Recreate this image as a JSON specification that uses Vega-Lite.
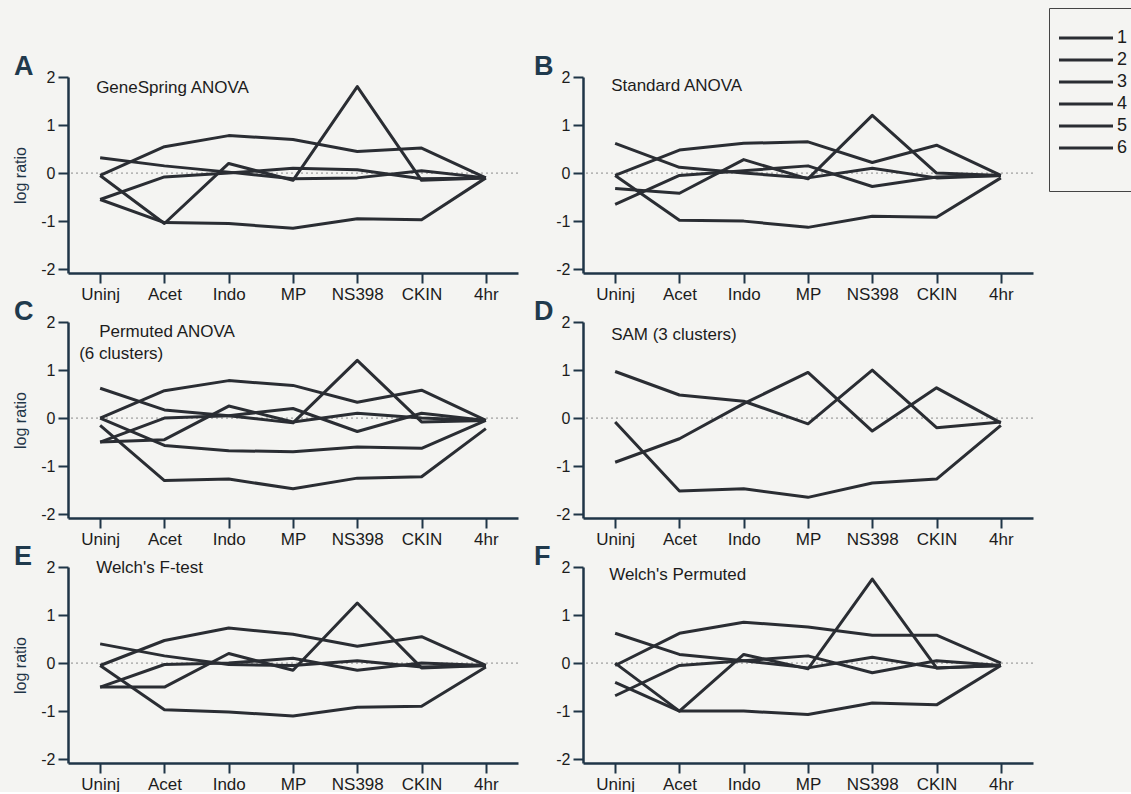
{
  "$schema": "https://vega.github.io/schema/vega-lite/v6.json",
  "padding": {"left": 12, "top": 7, "right": 0, "bottom": 0},
  "background": "#f4f4f2",
  "bounds": "flush",
  "columns": 2,
  "spacing": {"row": 49, "column": 65},
  "datasets": {
    "lines": [
      {"panel":"A","cluster":"1","stage":"Uninj","v":0.32},{"panel":"A","cluster":"1","stage":"Acet","v":0.15},{"panel":"A","cluster":"1","stage":"Indo","v":0.02},{"panel":"A","cluster":"1","stage":"MP","v":-0.12},{"panel":"A","cluster":"1","stage":"NS398","v":-0.1},{"panel":"A","cluster":"1","stage":"CKIN","v":0.05},{"panel":"A","cluster":"1","stage":"4hr","v":-0.1},
      {"panel":"A","cluster":"2","stage":"Uninj","v":-0.05},{"panel":"A","cluster":"2","stage":"Acet","v":0.55},{"panel":"A","cluster":"2","stage":"Indo","v":0.78},{"panel":"A","cluster":"2","stage":"MP","v":0.7},{"panel":"A","cluster":"2","stage":"NS398","v":0.45},{"panel":"A","cluster":"2","stage":"CKIN","v":0.52},{"panel":"A","cluster":"2","stage":"4hr","v":-0.1},
      {"panel":"A","cluster":"3","stage":"Uninj","v":-0.05},{"panel":"A","cluster":"3","stage":"Acet","v":-1.05},{"panel":"A","cluster":"3","stage":"Indo","v":0.2},{"panel":"A","cluster":"3","stage":"MP","v":-0.15},{"panel":"A","cluster":"3","stage":"NS398","v":1.8},{"panel":"A","cluster":"3","stage":"CKIN","v":-0.15},{"panel":"A","cluster":"3","stage":"4hr","v":-0.1},
      {"panel":"A","cluster":"4","stage":"Uninj","v":-0.55},{"panel":"A","cluster":"4","stage":"Acet","v":-1.03},{"panel":"A","cluster":"4","stage":"Indo","v":-1.05},{"panel":"A","cluster":"4","stage":"MP","v":-1.15},{"panel":"A","cluster":"4","stage":"NS398","v":-0.95},{"panel":"A","cluster":"4","stage":"CKIN","v":-0.97},{"panel":"A","cluster":"4","stage":"4hr","v":-0.1},
      {"panel":"A","cluster":"5","stage":"Uninj","v":-0.55},{"panel":"A","cluster":"5","stage":"Acet","v":-0.08},{"panel":"A","cluster":"5","stage":"Indo","v":0.0},{"panel":"A","cluster":"5","stage":"MP","v":0.1},{"panel":"A","cluster":"5","stage":"NS398","v":0.07},{"panel":"A","cluster":"5","stage":"CKIN","v":-0.12},{"panel":"A","cluster":"5","stage":"4hr","v":-0.1},

      {"panel":"B","cluster":"1","stage":"Uninj","v":0.62},{"panel":"B","cluster":"1","stage":"Acet","v":0.12},{"panel":"B","cluster":"1","stage":"Indo","v":0.0},{"panel":"B","cluster":"1","stage":"MP","v":-0.1},{"panel":"B","cluster":"1","stage":"NS398","v":0.1},{"panel":"B","cluster":"1","stage":"CKIN","v":-0.1},{"panel":"B","cluster":"1","stage":"4hr","v":-0.05},
      {"panel":"B","cluster":"2","stage":"Uninj","v":-0.05},{"panel":"B","cluster":"2","stage":"Acet","v":0.48},{"panel":"B","cluster":"2","stage":"Indo","v":0.62},{"panel":"B","cluster":"2","stage":"MP","v":0.65},{"panel":"B","cluster":"2","stage":"NS398","v":0.22},{"panel":"B","cluster":"2","stage":"CKIN","v":0.58},{"panel":"B","cluster":"2","stage":"4hr","v":-0.05},
      {"panel":"B","cluster":"3","stage":"Uninj","v":-0.05},{"panel":"B","cluster":"3","stage":"Acet","v":-0.98},{"panel":"B","cluster":"3","stage":"Indo","v":-1.0},{"panel":"B","cluster":"3","stage":"MP","v":-1.13},{"panel":"B","cluster":"3","stage":"NS398","v":-0.9},{"panel":"B","cluster":"3","stage":"CKIN","v":-0.92},{"panel":"B","cluster":"3","stage":"4hr","v":-0.1},
      {"panel":"B","cluster":"4","stage":"Uninj","v":-0.32},{"panel":"B","cluster":"4","stage":"Acet","v":-0.42},{"panel":"B","cluster":"4","stage":"Indo","v":0.28},{"panel":"B","cluster":"4","stage":"MP","v":-0.12},{"panel":"B","cluster":"4","stage":"NS398","v":1.2},{"panel":"B","cluster":"4","stage":"CKIN","v":0.0},{"panel":"B","cluster":"4","stage":"4hr","v":-0.05},
      {"panel":"B","cluster":"5","stage":"Uninj","v":-0.65},{"panel":"B","cluster":"5","stage":"Acet","v":-0.05},{"panel":"B","cluster":"5","stage":"Indo","v":0.05},{"panel":"B","cluster":"5","stage":"MP","v":0.15},{"panel":"B","cluster":"5","stage":"NS398","v":-0.28},{"panel":"B","cluster":"5","stage":"CKIN","v":-0.08},{"panel":"B","cluster":"5","stage":"4hr","v":-0.05},

      {"panel":"C","cluster":"1","stage":"Uninj","v":0.62},{"panel":"C","cluster":"1","stage":"Acet","v":0.17},{"panel":"C","cluster":"1","stage":"Indo","v":0.05},{"panel":"C","cluster":"1","stage":"MP","v":-0.1},{"panel":"C","cluster":"1","stage":"NS398","v":1.2},{"panel":"C","cluster":"1","stage":"CKIN","v":-0.08},{"panel":"C","cluster":"1","stage":"4hr","v":-0.05},
      {"panel":"C","cluster":"2","stage":"Uninj","v":0.0},{"panel":"C","cluster":"2","stage":"Acet","v":0.57},{"panel":"C","cluster":"2","stage":"Indo","v":0.78},{"panel":"C","cluster":"2","stage":"MP","v":0.68},{"panel":"C","cluster":"2","stage":"NS398","v":0.33},{"panel":"C","cluster":"2","stage":"CKIN","v":0.58},{"panel":"C","cluster":"2","stage":"4hr","v":-0.05},
      {"panel":"C","cluster":"3","stage":"Uninj","v":0.0},{"panel":"C","cluster":"3","stage":"Acet","v":-0.57},{"panel":"C","cluster":"3","stage":"Indo","v":-0.68},{"panel":"C","cluster":"3","stage":"MP","v":-0.7},{"panel":"C","cluster":"3","stage":"NS398","v":-0.6},{"panel":"C","cluster":"3","stage":"CKIN","v":-0.63},{"panel":"C","cluster":"3","stage":"4hr","v":-0.05},
      {"panel":"C","cluster":"4","stage":"Uninj","v":-0.15},{"panel":"C","cluster":"4","stage":"Acet","v":-1.3},{"panel":"C","cluster":"4","stage":"Indo","v":-1.27},{"panel":"C","cluster":"4","stage":"MP","v":-1.47},{"panel":"C","cluster":"4","stage":"NS398","v":-1.25},{"panel":"C","cluster":"4","stage":"CKIN","v":-1.22},{"panel":"C","cluster":"4","stage":"4hr","v":-0.22},
      {"panel":"C","cluster":"5","stage":"Uninj","v":-0.5},{"panel":"C","cluster":"5","stage":"Acet","v":-0.45},{"panel":"C","cluster":"5","stage":"Indo","v":0.25},{"panel":"C","cluster":"5","stage":"MP","v":-0.08},{"panel":"C","cluster":"5","stage":"NS398","v":0.1},{"panel":"C","cluster":"5","stage":"CKIN","v":0.0},{"panel":"C","cluster":"5","stage":"4hr","v":-0.05},
      {"panel":"C","cluster":"6","stage":"Uninj","v":-0.5},{"panel":"C","cluster":"6","stage":"Acet","v":0.0},{"panel":"C","cluster":"6","stage":"Indo","v":0.05},{"panel":"C","cluster":"6","stage":"MP","v":0.2},{"panel":"C","cluster":"6","stage":"NS398","v":-0.28},{"panel":"C","cluster":"6","stage":"CKIN","v":0.1},{"panel":"C","cluster":"6","stage":"4hr","v":-0.05},

      {"panel":"D","cluster":"1","stage":"Uninj","v":0.97},{"panel":"D","cluster":"1","stage":"Acet","v":0.48},{"panel":"D","cluster":"1","stage":"Indo","v":0.35},{"panel":"D","cluster":"1","stage":"MP","v":-0.12},{"panel":"D","cluster":"1","stage":"NS398","v":1.0},{"panel":"D","cluster":"1","stage":"CKIN","v":-0.2},{"panel":"D","cluster":"1","stage":"4hr","v":-0.08},
      {"panel":"D","cluster":"2","stage":"Uninj","v":-0.92},{"panel":"D","cluster":"2","stage":"Acet","v":-0.43},{"panel":"D","cluster":"2","stage":"Indo","v":0.3},{"panel":"D","cluster":"2","stage":"MP","v":0.95},{"panel":"D","cluster":"2","stage":"NS398","v":-0.27},{"panel":"D","cluster":"2","stage":"CKIN","v":0.63},{"panel":"D","cluster":"2","stage":"4hr","v":-0.1},
      {"panel":"D","cluster":"3","stage":"Uninj","v":-0.08},{"panel":"D","cluster":"3","stage":"Acet","v":-1.52},{"panel":"D","cluster":"3","stage":"Indo","v":-1.47},{"panel":"D","cluster":"3","stage":"MP","v":-1.65},{"panel":"D","cluster":"3","stage":"NS398","v":-1.35},{"panel":"D","cluster":"3","stage":"CKIN","v":-1.27},{"panel":"D","cluster":"3","stage":"4hr","v":-0.15},

      {"panel":"E","cluster":"1","stage":"Uninj","v":0.4},{"panel":"E","cluster":"1","stage":"Acet","v":0.15},{"panel":"E","cluster":"1","stage":"Indo","v":-0.03},{"panel":"E","cluster":"1","stage":"MP","v":-0.05},{"panel":"E","cluster":"1","stage":"NS398","v":0.05},{"panel":"E","cluster":"1","stage":"CKIN","v":-0.08},{"panel":"E","cluster":"1","stage":"4hr","v":-0.05},
      {"panel":"E","cluster":"2","stage":"Uninj","v":-0.05},{"panel":"E","cluster":"2","stage":"Acet","v":0.47},{"panel":"E","cluster":"2","stage":"Indo","v":0.73},{"panel":"E","cluster":"2","stage":"MP","v":0.6},{"panel":"E","cluster":"2","stage":"NS398","v":0.35},{"panel":"E","cluster":"2","stage":"CKIN","v":0.55},{"panel":"E","cluster":"2","stage":"4hr","v":-0.05},
      {"panel":"E","cluster":"3","stage":"Uninj","v":-0.05},{"panel":"E","cluster":"3","stage":"Acet","v":-0.97},{"panel":"E","cluster":"3","stage":"Indo","v":-1.02},{"panel":"E","cluster":"3","stage":"MP","v":-1.1},{"panel":"E","cluster":"3","stage":"NS398","v":-0.92},{"panel":"E","cluster":"3","stage":"CKIN","v":-0.9},{"panel":"E","cluster":"3","stage":"4hr","v":-0.08},
      {"panel":"E","cluster":"4","stage":"Uninj","v":-0.5},{"panel":"E","cluster":"4","stage":"Acet","v":-0.5},{"panel":"E","cluster":"4","stage":"Indo","v":0.2},{"panel":"E","cluster":"4","stage":"MP","v":-0.15},{"panel":"E","cluster":"4","stage":"NS398","v":1.25},{"panel":"E","cluster":"4","stage":"CKIN","v":-0.1},{"panel":"E","cluster":"4","stage":"4hr","v":-0.05},
      {"panel":"E","cluster":"5","stage":"Uninj","v":-0.5},{"panel":"E","cluster":"5","stage":"Acet","v":-0.03},{"panel":"E","cluster":"5","stage":"Indo","v":0.0},{"panel":"E","cluster":"5","stage":"MP","v":0.1},{"panel":"E","cluster":"5","stage":"NS398","v":-0.15},{"panel":"E","cluster":"5","stage":"CKIN","v":0.0},{"panel":"E","cluster":"5","stage":"4hr","v":-0.05},

      {"panel":"F","cluster":"1","stage":"Uninj","v":0.62},{"panel":"F","cluster":"1","stage":"Acet","v":0.18},{"panel":"F","cluster":"1","stage":"Indo","v":0.05},{"panel":"F","cluster":"1","stage":"MP","v":-0.1},{"panel":"F","cluster":"1","stage":"NS398","v":0.12},{"panel":"F","cluster":"1","stage":"CKIN","v":-0.1},{"panel":"F","cluster":"1","stage":"4hr","v":-0.05},
      {"panel":"F","cluster":"2","stage":"Uninj","v":-0.05},{"panel":"F","cluster":"2","stage":"Acet","v":0.62},{"panel":"F","cluster":"2","stage":"Indo","v":0.85},{"panel":"F","cluster":"2","stage":"MP","v":0.75},{"panel":"F","cluster":"2","stage":"NS398","v":0.58},{"panel":"F","cluster":"2","stage":"CKIN","v":0.58},{"panel":"F","cluster":"2","stage":"4hr","v":0.0},
      {"panel":"F","cluster":"3","stage":"Uninj","v":0.0},{"panel":"F","cluster":"3","stage":"Acet","v":-1.0},{"panel":"F","cluster":"3","stage":"Indo","v":0.18},{"panel":"F","cluster":"3","stage":"MP","v":-0.12},{"panel":"F","cluster":"3","stage":"NS398","v":1.75},{"panel":"F","cluster":"3","stage":"CKIN","v":-0.1},{"panel":"F","cluster":"3","stage":"4hr","v":-0.05},
      {"panel":"F","cluster":"4","stage":"Uninj","v":-0.4},{"panel":"F","cluster":"4","stage":"Acet","v":-1.0},{"panel":"F","cluster":"4","stage":"Indo","v":-1.0},{"panel":"F","cluster":"4","stage":"MP","v":-1.07},{"panel":"F","cluster":"4","stage":"NS398","v":-0.83},{"panel":"F","cluster":"4","stage":"CKIN","v":-0.87},{"panel":"F","cluster":"4","stage":"4hr","v":-0.05},
      {"panel":"F","cluster":"5","stage":"Uninj","v":-0.68},{"panel":"F","cluster":"5","stage":"Acet","v":-0.05},{"panel":"F","cluster":"5","stage":"Indo","v":0.05},{"panel":"F","cluster":"5","stage":"MP","v":0.15},{"panel":"F","cluster":"5","stage":"NS398","v":-0.2},{"panel":"F","cluster":"5","stage":"CKIN","v":0.05},{"panel":"F","cluster":"5","stage":"4hr","v":-0.05}
    ],
    "labels": [
      {"panel":"A","stage":"Uninj","v":1.77,"label":"GeneSpring ANOVA","shift":"a"},
      {"panel":"B","stage":"Uninj","v":1.81,"label":"Standard ANOVA","shift":"a"},
      {"panel":"C","stage":"Uninj","v":1.79,"label":"Permuted ANOVA","shift":"a"},
      {"panel":"C","stage":"Uninj","v":1.33,"label":"(6 clusters)","shift":"b"},
      {"panel":"D","stage":"Uninj","v":1.73,"label":"SAM (3 clusters)","shift":"a"},
      {"panel":"E","stage":"Uninj","v":1.98,"label":"Welch's F-test","shift":"a"},
      {"panel":"F","stage":"Uninj","v":1.83,"label":"Welch's Permuted","shift":"a"}
    ],
    "zero": [{"z": 0}]
  },
  "concat": [
      {"width": 450, "height": 196, "title": {"text": "A", "dx": -54},
       "layer": [
        {"data": {"name": "zero"}, "mark": {"type": "rule", "color": "#8a8a8a", "strokeWidth": 1, "strokeDash": [2, 3]}, "encoding": {"y": {"field": "z", "type": "quantitative", "scale": {"domain": [-2.08, 2], "nice": false, "zero": false}, "title": "log ratio", "axis": {"values": [-2, -1.5, -1, -0.5, 0, 0.5, 1, 1.5, 2]}}}},
        {"data": {"name": "lines"}, "transform": [{"filter": "datum.panel === 'A'"}], "mark": {"type": "line", "strokeWidth": 3, "strokeJoin": "round"},
         "encoding": {"x": {"field": "stage", "type": "ordinal", "scale": {"type": "point", "padding": 0.5, "domain": ["Uninj","Acet","Indo","MP","NS398","CKIN","4hr"]}, "title": null},
                      "y": {"field": "v", "type": "quantitative", "title": "log ratio"},
                      "color": {"field": "cluster", "type": "nominal", "title": " "}}},
        {"data": {"name": "labels"}, "transform": [{"filter": "datum.panel === 'A'"}], "mark": {"type": "text", "align": "left", "dx": -4, "fontSize": 17},
         "encoding": {"x": {"field": "stage", "type": "ordinal", "title": null}, "y": {"field": "v", "type": "quantitative", "title": "log ratio"}, "text": {"field": "label"}}}
       ]},
      {"width": 450, "height": 196, "title": {"text": "B", "dx": -49},
       "layer": [
        {"data": {"name": "zero"}, "mark": {"type": "rule", "color": "#8a8a8a", "strokeWidth": 1, "strokeDash": [2, 3]}, "encoding": {"y": {"field": "z", "type": "quantitative", "scale": {"domain": [-2.08, 2], "nice": false, "zero": false}, "title": null, "axis": {"values": [-2, -1.5, -1, -0.5, 0, 0.5, 1, 1.5, 2]}}}},
        {"data": {"name": "lines"}, "transform": [{"filter": "datum.panel === 'B'"}], "mark": {"type": "line", "strokeWidth": 3, "strokeJoin": "round"},
         "encoding": {"x": {"field": "stage", "type": "ordinal", "scale": {"type": "point", "padding": 0.5, "domain": ["Uninj","Acet","Indo","MP","NS398","CKIN","4hr"]}, "title": null},
                      "y": {"field": "v", "type": "quantitative", "title": null},
                      "color": {"field": "cluster", "type": "nominal", "title": " "}}},
        {"data": {"name": "labels"}, "transform": [{"filter": "datum.panel === 'B'"}], "mark": {"type": "text", "align": "left", "dx": -4, "fontSize": 17},
         "encoding": {"x": {"field": "stage", "type": "ordinal", "title": null}, "y": {"field": "v", "type": "quantitative", "title": null}, "text": {"field": "label"}}}
       ]},
      {"width": 450, "height": 196, "title": {"text": "C", "dx": -54},
       "layer": [
        {"data": {"name": "zero"}, "mark": {"type": "rule", "color": "#8a8a8a", "strokeWidth": 1, "strokeDash": [2, 3]}, "encoding": {"y": {"field": "z", "type": "quantitative", "scale": {"domain": [-2.08, 2], "nice": false, "zero": false}, "title": "log ratio", "axis": {"values": [-2, -1.5, -1, -0.5, 0, 0.5, 1, 1.5, 2]}}}},
        {"data": {"name": "lines"}, "transform": [{"filter": "datum.panel === 'C'"}], "mark": {"type": "line", "strokeWidth": 3, "strokeJoin": "round"},
         "encoding": {"x": {"field": "stage", "type": "ordinal", "scale": {"type": "point", "padding": 0.5, "domain": ["Uninj","Acet","Indo","MP","NS398","CKIN","4hr"]}, "title": null},
                      "y": {"field": "v", "type": "quantitative", "title": "log ratio"},
                      "color": {"field": "cluster", "type": "nominal", "title": " "}}},
        {"data": {"name": "labels"}, "transform": [{"filter": "datum.panel === 'C' && datum.shift === 'a'"}], "mark": {"type": "text", "align": "left", "dx": -1, "fontSize": 17},
         "encoding": {"x": {"field": "stage", "type": "ordinal", "title": null}, "y": {"field": "v", "type": "quantitative", "title": "log ratio"}, "text": {"field": "label"}}},
        {"data": {"name": "labels"}, "transform": [{"filter": "datum.panel === 'C' && datum.shift === 'b'"}], "mark": {"type": "text", "align": "left", "dx": -21, "fontSize": 17},
         "encoding": {"x": {"field": "stage", "type": "ordinal", "title": null}, "y": {"field": "v", "type": "quantitative", "title": "log ratio"}, "text": {"field": "label"}}}
       ]},
      {"width": 450, "height": 196, "title": {"text": "D", "dx": -49},
       "layer": [
        {"data": {"name": "zero"}, "mark": {"type": "rule", "color": "#8a8a8a", "strokeWidth": 1, "strokeDash": [2, 3]}, "encoding": {"y": {"field": "z", "type": "quantitative", "scale": {"domain": [-2.08, 2], "nice": false, "zero": false}, "title": null, "axis": {"values": [-2, -1.5, -1, -0.5, 0, 0.5, 1, 1.5, 2]}}}},
        {"data": {"name": "lines"}, "transform": [{"filter": "datum.panel === 'D'"}], "mark": {"type": "line", "strokeWidth": 3, "strokeJoin": "round"},
         "encoding": {"x": {"field": "stage", "type": "ordinal", "scale": {"type": "point", "padding": 0.5, "domain": ["Uninj","Acet","Indo","MP","NS398","CKIN","4hr"]}, "title": null},
                      "y": {"field": "v", "type": "quantitative", "title": null},
                      "color": {"field": "cluster", "type": "nominal", "title": " "}}},
        {"data": {"name": "labels"}, "transform": [{"filter": "datum.panel === 'D'"}], "mark": {"type": "text", "align": "left", "dx": -4, "fontSize": 17},
         "encoding": {"x": {"field": "stage", "type": "ordinal", "title": null}, "y": {"field": "v", "type": "quantitative", "title": null}, "text": {"field": "label"}}}
       ]},
      {"width": 450, "height": 196, "title": {"text": "E", "dx": -54},
       "layer": [
        {"data": {"name": "zero"}, "mark": {"type": "rule", "color": "#8a8a8a", "strokeWidth": 1, "strokeDash": [2, 3]}, "encoding": {"y": {"field": "z", "type": "quantitative", "scale": {"domain": [-2.08, 2], "nice": false, "zero": false}, "title": "log ratio", "axis": {"values": [-2, -1.5, -1, -0.5, 0, 0.5, 1, 1.5, 2]}}}},
        {"data": {"name": "lines"}, "transform": [{"filter": "datum.panel === 'E'"}], "mark": {"type": "line", "strokeWidth": 3, "strokeJoin": "round"},
         "encoding": {"x": {"field": "stage", "type": "ordinal", "scale": {"type": "point", "padding": 0.5, "domain": ["Uninj","Acet","Indo","MP","NS398","CKIN","4hr"]}, "title": null},
                      "y": {"field": "v", "type": "quantitative", "title": "log ratio"},
                      "color": {"field": "cluster", "type": "nominal", "title": " "}}},
        {"data": {"name": "labels"}, "transform": [{"filter": "datum.panel === 'E'"}], "mark": {"type": "text", "align": "left", "dx": -4, "fontSize": 17},
         "encoding": {"x": {"field": "stage", "type": "ordinal", "title": null}, "y": {"field": "v", "type": "quantitative", "title": "log ratio"}, "text": {"field": "label"}}}
       ]},
      {"width": 450, "height": 196, "title": {"text": "F", "dx": -49},
       "layer": [
        {"data": {"name": "zero"}, "mark": {"type": "rule", "color": "#8a8a8a", "strokeWidth": 1, "strokeDash": [2, 3]}, "encoding": {"y": {"field": "z", "type": "quantitative", "scale": {"domain": [-2.08, 2], "nice": false, "zero": false}, "title": null, "axis": {"values": [-2, -1.5, -1, -0.5, 0, 0.5, 1, 1.5, 2]}}}},
        {"data": {"name": "lines"}, "transform": [{"filter": "datum.panel === 'F'"}], "mark": {"type": "line", "strokeWidth": 3, "strokeJoin": "round"},
         "encoding": {"x": {"field": "stage", "type": "ordinal", "scale": {"type": "point", "padding": 0.5, "domain": ["Uninj","Acet","Indo","MP","NS398","CKIN","4hr"]}, "title": null},
                      "y": {"field": "v", "type": "quantitative", "title": null},
                      "color": {"field": "cluster", "type": "nominal", "title": " "}}},
        {"data": {"name": "labels"}, "transform": [{"filter": "datum.panel === 'F'"}], "mark": {"type": "text", "align": "left", "dx": -6, "fontSize": 17},
         "encoding": {"x": {"field": "stage", "type": "ordinal", "title": null}, "y": {"field": "v", "type": "quantitative", "title": null}, "text": {"field": "label"}}}
       ]}
  ],
  "resolve": {"scale": {"color": "shared"}},
  "config": {
    "font": "Liberation Sans",
    "view": {"stroke": null},
    "text": {"color": "#1c1c1c"},
    "range": {"category": ["#2a2d33", "#2a2d33", "#2a2d33", "#2a2d33", "#2a2d33", "#2a2d33"]},
    "title": {"anchor": "start", "frame": "group", "fontSize": 27, "fontWeight": "bold", "color": "#1f3a4d", "baseline": "alphabetic", "offset": -12},
    "axis": {"domainColor": "#1f3547", "domainWidth": 2.5, "tickColor": "#1f3547", "tickWidth": 2, "labelColor": "#1c1c1c", "labelFontSize": 16, "grid": false, "titleColor": "#1f3547", "titleFontSize": 16, "titleFontWeight": "normal"},
    "axisX": {"labelAngle": 0, "tickSize": 10, "labelPadding": 3, "labelFontSize": 17},
    "axisY": {"tickSize": {"condition": {"test": "datum.value % 1 === 0", "value": 10}, "value": 5}, "labelExpr": "datum.value % 1 === 0 ? replace(datum.label, '\u2212', '-') : ''", "labelPadding": 3, "titlePadding": 12},
    "legend": {"orient": "none", "legendX": 981, "legendY": -69, "titleOrient": "bottom", "titleFontSize": 12, "titlePadding": 2, "symbolType": "M-4,0H6.8", "symbolSize": 100, "symbolStrokeWidth": 3.2, "labelFontSize": 18, "labelColor": "#1c1c1c", "labelOffset": 29, "rowPadding": 4, "strokeColor": "#444", "padding": 21}
  }
}
